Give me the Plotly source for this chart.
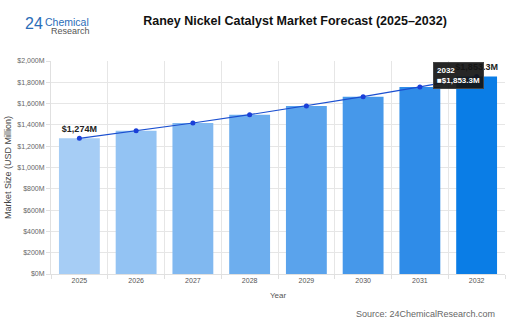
import plotly.graph_objects as go

years = ["2025", "2026", "2027", "2028", "2029", "2030", "2031", "2032"]
market_size = [1274, 1344, 1418, 1496, 1578, 1665, 1757, 1853.3]
point_labels = ["<b>$1,274M</b>", "", "", "", "", "", "", "<b>$1,853.3M</b>"]
bar_colors = ["#a6cdf5", "#93c3f3", "#80b8f0", "#6daeee", "#5aa3ec", "#4698ea", "#2f8ce8", "#0a7de6"]
y_ticks = [0, 200, 400, 600, 800, 1000, 1200, 1400, 1600, 1800, 2000]
y_tick_labels = ["$0M", "$200M", "$400M", "$600M", "$800M", "$1,000M", "$1,200M", "$1,400M", "$1,600M", "$1,800M", "$2,000M"]

fig = go.Figure()
fig.add_trace(go.Bar(x=years, y=market_size, marker=dict(color=bar_colors, line=dict(width=0)),
                     width=0.72, hoverinfo="skip"))
fig.add_trace(go.Scatter(x=years, y=market_size, mode="lines+markers+text",
                         text=point_labels, textposition="top center",
                         textfont=dict(family="Arial", size=9, color="#222"),
                         line=dict(color="#1a4fd0", width=1.2),
                         marker=dict(color="#1a3fd8", size=5), hoverinfo="skip"))

# tooltip (category index of last year)
last_idx = len(years) - 1
fig.add_annotation(x=last_idx, y=market_size[-1], text="<b>" + years[-1] + "</b><br><b>■$1,853.3M</b>",
                   showarrow=False, xshift=-18, yshift=1, align="left",
                   bgcolor="rgba(20,20,20,0.92)", bordercolor="#444", borderwidth=1, borderpad=3,
                   font=dict(family="Arial", size=8, color="#ffffff"))

def ppy(p):
    return (274 - p) / 213.0

def ppx(p):
    return (p - 44) / 461.0

# logo
fig.add_annotation(xref="paper", yref="paper", x=ppx(16), y=ppy(24), xanchor="left", yanchor="middle",
                   text="24", showarrow=False,
                   font=dict(family="Arial", size=16, color="#2a6db8"))
fig.add_annotation(xref="paper", yref="paper", x=ppx(36), y=ppy(22), xanchor="left", yanchor="middle",
                   text="Chemical", showarrow=False,
                   font=dict(family="Arial", size=10.5, color="#2a6db8"))
fig.add_annotation(xref="paper", yref="paper", x=ppx(42), y=ppy(31), xanchor="left", yanchor="middle",
                   text="Research", showarrow=False,
                   font=dict(family="Arial", size=9, color="#555"))

fig.add_annotation(xref="paper", yref="paper", x=ppx(497), y=ppy(314), xanchor="right", yanchor="middle",
                   text="Source: 24ChemicalResearch.com", showarrow=False,
                   font=dict(family="Arial", size=9, color="#666"))

fig.update_layout(
    width=512, height=328,
    margin=dict(l=44, r=7, t=61, b=54),
    paper_bgcolor="white", plot_bgcolor="white",
    showlegend=False,
    bargap=0.28,
    title=dict(text="<b>Raney Nickel Catalyst Market Forecast (2025–2032)</b>",
               x=295/512, xanchor="center", y=1 - 21/328, yanchor="middle",
               font=dict(family="Arial", size=12.5, color="#111")),
    xaxis=dict(type="category", range=[-0.5, len(years) - 0.5],
               title=dict(text="Year", font=dict(family="Arial", size=8, color="#555"), standoff=8),
               tickfont=dict(family="Arial", size=7, color="#555"), tickangle=0,
               showgrid=True, gridcolor="#e6e6e6", tickson="boundaries",
               showline=True, linecolor="#e0e0e0", ticks="outside", ticklen=4, tickcolor="#e0e0e0"),
    yaxis=dict(title=dict(text="Market Size (USD Million)", font=dict(family="Arial", size=9, color="#444"), standoff=4),
               range=[0, 2000], tickvals=y_ticks, ticktext=y_tick_labels,
               tickfont=dict(family="Arial", size=7, color="#666"),
               showgrid=True, gridcolor="#e6e6e6", zeroline=False,
               showline=True, linecolor="#e0e0e0", ticks="outside", ticklen=4, tickcolor="#e0e0e0"),
)

fig.write_html("out.html")
